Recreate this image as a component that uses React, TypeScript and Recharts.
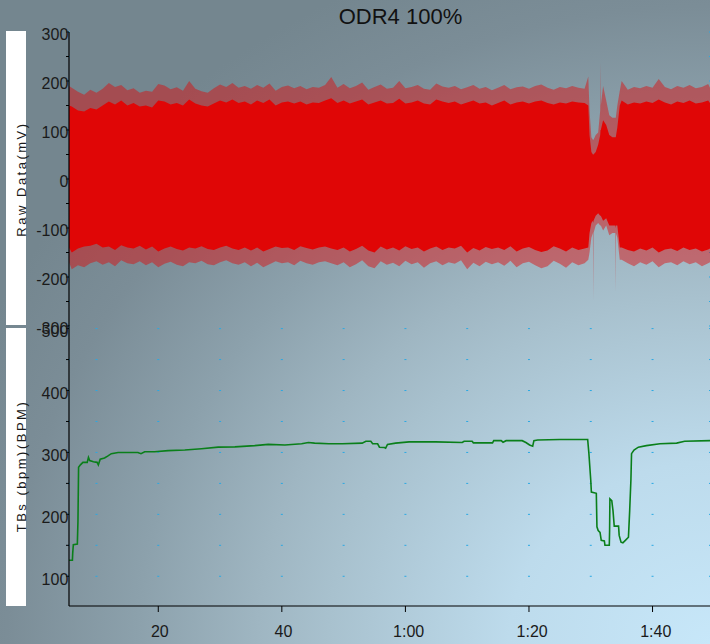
import React from 'react';
import { ComposedChart, Area, Line, XAxis, YAxis, CartesianGrid } from 'recharts';

const TITLE = 'ODR4 100%';
const RAW_LABEL = 'Raw Data(mV)';
const TB_LABEL = 'TBs (bpm)(BPM)';
const FONT = '"Liberation Sans", Arial, sans-serif';

const X_DOMAIN = [5.55, 109.3];
const X_TICKS = [10, 20, 30, 40, 50, 60, 70, 80, 90, 100];
const X_LABELS: Record<number, string> = { 20: '20', 40: '40', 60: '1:00', 80: '1:20', 100: '1:40' };
const RAW_DOMAIN = [-300, 300];
const RAW_TICKS = [-300, -250, -200, -150, -100, -50, 0, 50, 100, 150, 200, 250, 300];
const TB_DOMAIN = [52, 505];
const TB_TICKS = [100, 150, 200, 250, 300, 350, 400, 450, 500];

// Raw signal envelopes (seconds, mV)
const RAW_T = [
  5.55, 6, 7, 8, 9, 10, 11, 12, 13, 14, 15, 16, 17, 18, 19, 20, 21, 22, 23, 24, 25, 26, 27, 28, 29, 30,
  31, 32, 33, 34, 35, 36, 37, 38, 39, 40, 41, 42, 43, 44, 45, 46, 47, 48, 49, 50, 51, 52, 53, 54, 55, 56, 57, 58, 59, 60,
  61, 62, 63, 64, 65, 66, 67, 68, 69, 70, 71, 72, 73, 74, 75, 76, 77, 78, 79, 80, 81, 82, 83, 84, 85, 86, 87, 88, 89,
  89.6, 89.8, 90.1, 90.35, 90.4, 90.45, 90.8, 91.2, 91.53, 91.58, 91.63, 92.0, 92.5, 93.0, 93.5, 93.95, 94.0, 94.05, 94.3, 94.7,
  95, 96, 97, 98, 99, 100, 101, 102, 103, 104, 105, 106, 107, 108, 109, 109.3,
];
// spike tips
const RAW_OUTER_HI = [
  190, 186, 178, 172, 182, 176, 184, 196, 188, 192, 181, 185, 176, 180, 178, 194, 191, 183, 187, 180, 200, 184, 179, 176, 185, 193,
  188, 196, 186, 190, 184, 192, 186, 195, 180, 188, 191, 185, 190, 183, 188, 186, 192, 208, 186, 194, 185, 190, 197, 182, 188, 193, 184, 186, 200, 185,
  188, 192, 184, 182, 195, 189, 186, 190, 183, 187, 192, 184, 188, 181, 186, 192, 183, 187, 189, 184, 190, 193, 186, 182, 188, 185, 190, 186, 184,
  209, 140, 85, 80, 80, 80, 90, 95, 140, 238, 150, 190, 160, 130, 125, 125, 125, 125, 150, 180,
  200, 182, 188, 185, 190, 186, 204, 188, 183, 190, 186, 192, 185, 188, 194, 186,
];
const RAW_OUTER_LO = [
  -170, -184, -176, -180, -172, -168, -175, -170, -178, -166, -172, -174, -168, -176, -170, -180, -173, -169, -175, -178, -170, -172, -167, -174, -176, -170,
  -166, -172, -175, -170, -178, -171, -180, -174, -168, -172, -170, -176, -167, -172, -175, -170, -168, -172, -176, -170, -180, -174, -166, -178, -182, -168, -175, -171, -178, -167,
  -174, -170, -181, -172, -168, -176, -170, -173, -166, -184, -171, -178, -169, -174, -170, -177, -167, -180, -172, -169, -176, -182, -178, -167, -173, -181, -170, -176, -172,
  -165, -150, -120, -110, -247, -110, -95, -90, -95, -95, -95, -105, -95, -115, -110, -110, -230, -110, -120, -165,
  -165, -172, -178, -170, -175, -168, -180, -172, -170, -176, -168, -174, -170, -178, -172, -170,
];
// dense body of the trace
const RAW_BODY_HI = [
  150, 148, 140, 138, 145, 142, 150, 158, 152, 160, 150, 155, 148, 150, 146, 160, 158, 152, 155, 150, 162, 154, 150, 148, 154, 160,
  156, 162, 155, 158, 152, 160, 155, 162, 150, 156, 158, 154, 158, 152, 156, 155, 160, 165, 155, 160, 154, 158, 162, 152, 156, 160, 154, 155, 164, 154,
  156, 160, 154, 152, 162, 158, 155, 158, 152, 156, 160, 154, 156, 150, 155, 160, 152, 156, 158, 154, 158, 160, 155, 152, 156, 154, 158, 156, 155,
  150, 90, 55, 50, 50, 50, 55, 70, 90, 100, 100, 120, 110, 90, 85, 85, 85, 85, 105, 150,
  160, 152, 156, 154, 158, 155, 162, 156, 152, 158, 155, 160, 154, 156, 160, 155,
];
const RAW_BODY_LO = [
  -140, -150, -142, -138, -136, -132, -140, -138, -145, -135, -140, -142, -136, -144, -138, -148, -142, -138, -143, -146, -140, -142, -137, -143, -145, -140,
  -136, -142, -145, -140, -146, -140, -148, -143, -138, -141, -140, -145, -137, -141, -144, -140, -138, -142, -145, -140, -148, -143, -136, -146, -150, -138, -144, -140, -146, -137,
  -143, -140, -148, -142, -138, -145, -140, -142, -136, -150, -141, -146, -139, -143, -140, -145, -137, -148, -142, -139, -145, -149, -146, -137, -142, -148, -140, -145, -142,
  -140, -110, -90, -85, -90, -85, -75, -70, -75, -75, -75, -85, -80, -95, -95, -95, -100, -95, -95, -140,
  -140, -145, -148, -142, -146, -140, -150, -144, -142, -147, -140, -145, -142, -148, -144, -142,
];

// TBs (bpm) trace
const TB_T = [
  5.55, 6.1, 6.15, 6.25, 6.9, 7.0, 7.1, 7.4, 7.8, 8.5, 8.7, 8.9, 9.5, 10.1, 10.3, 10.6, 11.3, 11.8, 12.4, 13.5,
  16.7, 17.2, 17.8, 19.4, 21.6, 24.3, 27, 29.7, 32.4, 35.6, 37.8, 40.5, 43.2, 44.3, 45.3, 47.6, 49.8, 53, 53.6, 54.4,
  54.7, 55.5, 55.8, 56.6, 56.8, 57.1, 58.4, 60.6, 64.9, 69.2, 69.5, 70.8, 71, 74.1, 74.3, 75.5, 75.8, 76.3, 78.9, 79.5,
  80.1, 80.6, 80.8, 81.4, 85, 89.5, 89.7, 90.0, 90.1, 90.9, 91.0, 91.2, 91.5, 91.7, 92.2, 92.3, 93.0, 93.05, 93.1, 93.4,
  93.6, 93.8, 94.5, 94.6, 94.9, 95.2, 95.6, 96.1, 96.3, 96.5, 96.6, 97.0, 97.7, 99.0, 101.2, 103.9, 105.2, 109.3,
];
const TB_V = [
  126, 126, 137, 151, 152, 189, 276, 280, 284, 284, 292, 287, 285, 284, 280, 289, 291, 294, 298, 300,
  300, 298, 301, 301, 303, 304, 306, 308.5, 309, 311, 313, 312, 314, 316, 315, 314, 314, 315, 318, 318,
  314, 314, 308.5, 308, 307, 313, 315, 317, 317, 316, 318, 318, 315.5, 315.5, 319, 319, 316.5, 319, 319, 316,
  312, 310, 319, 320, 321, 321, 298, 255, 236, 234, 180, 174, 171, 158, 157, 150, 150, 174, 225, 222,
  206, 181, 181, 166, 155, 154, 158, 163, 206, 256, 298, 304, 308.5, 311, 314, 315, 318, 319,
];

const RAW_DATA = RAW_T.map((t, i) => ({
  t,
  outer: [RAW_OUTER_LO[i], RAW_OUTER_HI[i]],
  body: [RAW_BODY_LO[i], RAW_BODY_HI[i]],
}));
const TB_DATA = TB_T.map((t, i) => ({ t, tb: TB_V[i] }));

const BG =
  'radial-gradient(farthest-corner at 100% 100%, #c7e7f9 0%, #bddbec 20%, #a8c1ce 38%, #9fb6c2 45%, #8ca1ac 57%, #7b8d97 70%, #74868f 80%, #74868f 100%)';

const makeDots = (span: number, first: number, count: number) => (props: any) => {
  const { x1, y1, y2 } = props;
  const step = ((y2 - y1) * 50) / span;
  const off = ((y2 - y1) * first) / span;
  const items = [];
  for (let k = 0; k < count; k++) {
    items.push(
      <rect key={k} x={x1 - 1} y={y1 + off + k * step - 0.5} width={2} height={1} fill="#2aa8e3" />
    );
  }
  return <g key={props.key ?? `d-${x1}`}>{items}</g>;
};

const valueTick = (props: any) => {
  const { x, y, payload } = props;
  if (payload.value % 100 !== 0) return <g />;
  return (
    <text x={x + 2.3} y={y + 8.3} textAnchor="end" fontSize={16} fontFamily={FONT} fill="#1a1a1a">
      {payload.value}
    </text>
  );
};

const timeTick = (props: any) => {
  const { x, y, payload } = props;
  const label = X_LABELS[payload.value];
  if (!label) return <g />;
  return (
    <g>
      <line x1={x} x2={x} y1={y} y2={y + 6} stroke="#000" strokeWidth={1} />
      <text
        x={x + (label.includes(':') ? 3.2 : 1.6)}
        y={y + 31.3}
        textAnchor="middle"
        fontSize={16}
        fontFamily={FONT}
        fill="#1a1a1a"
      >
        {label}
      </text>
    </g>
  );
};

const labelStyle = (top: number): React.CSSProperties => ({
  position: 'absolute',
  left: 21,
  top,
  transform: 'translate(-50%, -50%) rotate(-90deg)',
  whiteSpace: 'nowrap',
  fontSize: 13,
  letterSpacing: '2.5px',
  lineHeight: '15px',
  fontFamily: FONT,
  color: '#1a1a1a',
});

export default function App() {
  return (
    <div
      style={{
        position: 'absolute',
        left: 0,
        top: 0,
        width: 710,
        height: 644,
        overflow: 'hidden',
        background: BG,
      }}
    >
      <div style={{ position: 'absolute', left: 6, top: 31, width: 20, height: 294, background: '#fff' }} />
      <div style={{ position: 'absolute', left: 6, top: 328, width: 20, height: 278, background: '#fff' }} />
      <div style={labelStyle(178.7)}>{RAW_LABEL}</div>
      <div style={labelStyle(465.8)}>{TB_LABEL}</div>
      <div
        style={{
          position: 'absolute',
          left: 300,
          top: 6,
          width: 201,
          textAlign: 'center',
          fontSize: 22,
          lineHeight: '22px',
          fontFamily: FONT,
          color: '#111',
          whiteSpace: 'nowrap',
        }}
      >
        {TITLE}
      </div>

      <div style={{ position: 'absolute', left: 0, top: 0 }}>
        <ComposedChart width={710} height={345} data={RAW_DATA} margin={{ top: 32, right: 0, bottom: 19, left: 0 }}>
          <CartesianGrid horizontal={false} vertical={makeDots(600, 0, 13)} />
          <XAxis
            type="number"
            dataKey="t"
            domain={X_DOMAIN}
            ticks={X_TICKS}
            allowDataOverflow
            height={0}
            tick={false}
            tickLine={false}
            axisLine={{ stroke: '#000', strokeWidth: 1.3 }}
          />
          <YAxis
            type="number"
            domain={RAW_DOMAIN}
            ticks={RAW_TICKS}
            allowDataOverflow
            interval={0}
            width={69}
            tickSize={3}
            tickMargin={0}
            tick={valueTick}
            tickLine={{ stroke: '#000' }}
            axisLine={{ stroke: '#000', strokeWidth: 1.2 }}
          />
          <Area type="linear" dataKey="outer" stroke="none" fill="#e00606" fillOpacity={0.45} isAnimationActive={false} />
          <Area type="linear" dataKey="body" stroke="none" fill="#e00606" fillOpacity={1} isAnimationActive={false} />
        </ComposedChart>
      </div>

      <div style={{ position: 'absolute', left: 0, top: 0 }}>
        <ComposedChart width={710} height={644} data={TB_DATA} margin={{ top: 325.5, right: 0, bottom: 0, left: 0 }}>
          <CartesianGrid horizontal={false} vertical={makeDots(453, 5, 9)} />
          <XAxis
            type="number"
            dataKey="t"
            domain={X_DOMAIN}
            ticks={X_TICKS}
            allowDataOverflow
            interval={0}
            height={38}
            tickSize={0}
            tickMargin={0}
            tickLine={false}
            tick={timeTick}
            axisLine={{ stroke: '#000', strokeWidth: 1.2 }}
          />
          <YAxis
            type="number"
            domain={TB_DOMAIN}
            ticks={TB_TICKS}
            allowDataOverflow
            interval={0}
            width={69}
            tickSize={3}
            tickMargin={0}
            tick={valueTick}
            tickLine={{ stroke: '#000' }}
            axisLine={{ stroke: '#000', strokeWidth: 1.2 }}
          />
          <Line
            type="linear"
            dataKey="tb"
            stroke="#0a7f1a"
            strokeWidth={1.6}
            dot={false}
            isAnimationActive={false}
          />
        </ComposedChart>
      </div>
    </div>
  );
}
